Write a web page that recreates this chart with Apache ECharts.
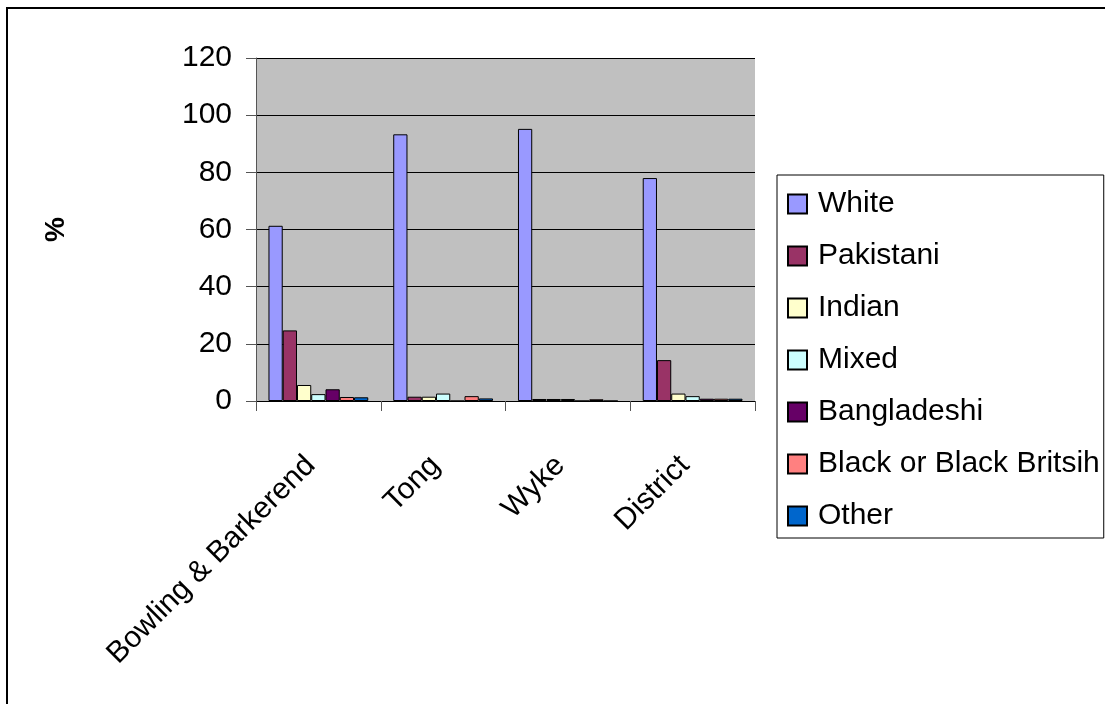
<!DOCTYPE html>
<html>
<head>
<meta charset="utf-8">
<style>
  html, body { margin: 0; padding: 0; background: #fff; }
  #chart { width: 1105px; height: 704px; }
</style>
<script src="https://cdn.jsdelivr.net/npm/echarts@6/dist/echarts.min.js"></script>
</head>
<body>
<div id="chart"></div>
<script>
// Population by ethnic group (%), per ward and the whole district
const categories = ['Bowling & Barkerend', 'Tong', 'Wyke', 'District'];
const white       = [61.3, 93.3, 95.2, 78.0];
const pakistani   = [24.7, 1.5, 0.7, 14.3];
const indian      = [5.6, 1.5, 0.7, 2.6];
const mixed       = [2.4, 2.6, 0.7, 1.7];
const bangladeshi = [4.1, 0, 0, 0.8];
const blackBrit   = [1.4, 1.7, 0.6, 0.8];
const other       = [1.3, 0.9, 0, 0.8];
const yTicks = [0, 20, 40, 60, 80, 100, 120];

const groups = [
  { name: 'White', data: white, color: '#9999FF' },
  { name: 'Pakistani', data: pakistani, color: '#993366' },
  { name: 'Indian', data: indian, color: '#FFFFCC' },
  { name: 'Mixed', data: mixed, color: '#CCFFFF' },
  { name: 'Bangladeshi', data: bangladeshi, color: '#660066' },
  { name: 'Black or Black Britsih', data: blackBrit, color: '#FF8080' },
  { name: 'Other', data: other, color: '#0066CC' }
];

const FONT = '"Liberation Sans", Arial, sans-serif';
const chart = echarts.init(document.getElementById('chart'));

chart.setOption({
  animation: false,
  textStyle: { fontFamily: FONT },
  graphic: [{
    type: 'rect',
    shape: { x: 7, y: 8, width: 1200, height: 1000 },
    style: { fill: 'none', stroke: '#000', lineWidth: 2 },
    silent: true
  }],
  grid: {
    left: 256, right: 350, top: 58, bottom: 303,
    show: true, backgroundColor: '#C0C0C0', borderWidth: 0
  },
  legend: {
    orient: 'vertical',
    left: 777, top: 175,
    padding: [14, 4, 7, 10],
    borderColor: '#000', borderWidth: 1,
    itemWidth: 19, itemHeight: 19, itemGap: 22,
    icon: 'rect',
    textStyle: { fontFamily: FONT, fontSize: 30, color: '#000', lineHeight: 30, padding: [0, 0, 0, 6] },
    data: groups.map(g => g.name)
  },
  xAxis: {
    type: 'category',
    data: categories,
    axisLine: { lineStyle: { color: '#000', width: 1 } },
    axisTick: { show: true, length: 10, lineStyle: { color: '#555' } },
    axisLabel: { rotate: 45, margin: 52, fontSize: 30, color: '#000', fontFamily: FONT, padding: [0, 11, 0, 0] }
  },
  yAxis: {
    type: 'value',
    min: yTicks[0], max: yTicks[yTicks.length - 1], interval: 20,
    name: '%',
    nameLocation: 'middle',
    nameGap: 186,
    nameRotate: 90,
    nameTextStyle: { fontSize: 28, fontWeight: 'bold', color: '#000', fontFamily: FONT },
    axisLine: { show: true, lineStyle: { color: '#555', width: 1 } },
    axisTick: { show: true, inside: false, length: 10, lineStyle: { color: '#555' } },
    axisLabel: { margin: 24, fontSize: 30, color: '#000', fontFamily: FONT },
    splitLine: { show: true, lineStyle: { color: '#000', width: 1 } }
  },
  series: groups.map(g => ({
    type: 'bar',
    name: g.name,
    data: g.data,
    barGap: '0%',
    barCategoryGap: '20%',
    itemStyle: { color: g.color, borderColor: '#000', borderWidth: 1 }
  }))
});
</script>
</body>
</html>
